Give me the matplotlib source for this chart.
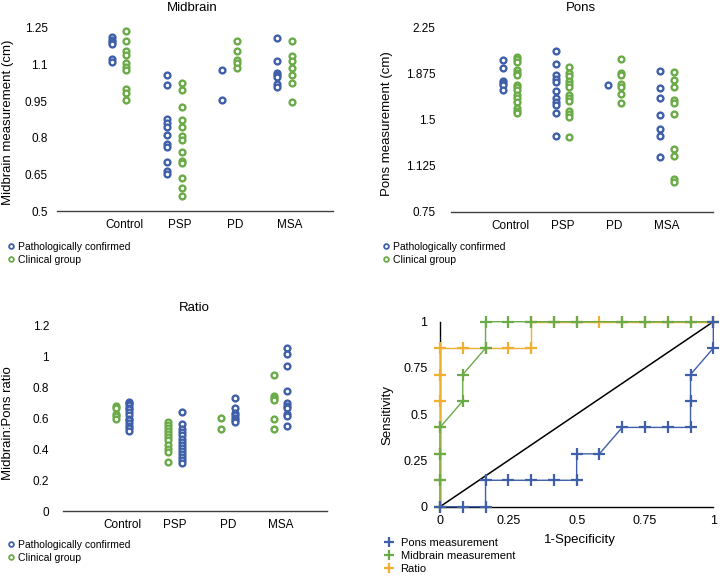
import numpy as np
import matplotlib.pyplot as plt

plt.rcParams['font.family'] = ['Liberation Sans', 'DejaVu Sans']

BLUE = '#3f5fa9'
GREEN = '#6aab48'
ORANGE = '#efb031'

groups = ["Control", "PSP", "PD", "MSA"]

# Midbrain measurement (cm)
mid_path = [
    [1.21, 1.20, 1.19, 1.185, 1.12, 1.11],
    [1.055, 1.015, 0.875, 0.86, 0.845, 0.813, 0.775, 0.762, 0.702, 0.664, 0.652],
    [1.076, 0.955],
    [1.207, 1.115, 1.066, 1.057, 1.047, 1.019, 1.006],
]
mid_clin = [
    [1.236, 1.197, 1.156, 1.14, 1.107, 1.088, 1.077, 0.998, 0.984, 0.955],
    [1.023, 0.995, 0.925, 0.874, 0.844, 0.805, 0.791, 0.742, 0.704, 0.696, 0.633, 0.594, 0.562],
    [1.197, 1.156, 1.118, 1.107, 1.087],
    [1.197, 1.136, 1.115, 1.085, 1.055, 1.025, 0.944],
]

# Pons measurement (cm)
pons_path = [
    [1.99, 1.92, 1.82, 1.80, 1.78, 1.74],
    [2.063, 1.951, 1.862, 1.834, 1.807, 1.734, 1.679, 1.642, 1.617, 1.557, 1.367],
    [1.78],
    [1.90, 1.759, 1.679, 1.538, 1.427, 1.367, 1.196],
]
pons_clin = [
    [2.014, 1.992, 1.973, 1.905, 1.883, 1.867, 1.783, 1.764, 1.742, 1.701, 1.674,
     1.647, 1.60, 1.575, 1.555],
    [1.932, 1.878, 1.86, 1.816, 1.791, 1.769, 1.701, 1.679, 1.65, 1.575, 1.547,
     1.522, 1.359],
    [1.992, 1.878, 1.862, 1.791, 1.769, 1.709, 1.639],
    [1.889, 1.821, 1.769, 1.661, 1.639, 1.55, 1.259, 1.204, 1.017, 0.998],
]

# Midbrain:Pons ratio
ratio_path = [
    [0.71, 0.70, 0.69, 0.67, 0.66, 0.64, 0.62, 0.60, 0.59, 0.57, 0.55, 0.54, 0.52],
    [0.64, 0.565, 0.53, 0.51, 0.49, 0.47, 0.45, 0.43, 0.41, 0.39, 0.37, 0.35,
     0.33, 0.31],
    [0.73, 0.67, 0.635, 0.62, 0.605, 0.59, 0.575],
    [1.059, 1.018, 0.943, 0.776, 0.699, 0.681, 0.668, 0.629, 0.616, 0.553],
]
ratio_clin = [
    [0.68, 0.665, 0.63, 0.615, 0.60],
    [0.58, 0.56, 0.54, 0.52, 0.50, 0.48, 0.46, 0.43, 0.40, 0.38, 0.32],
    [0.601, 0.534],
    [0.88, 0.745, 0.73, 0.72, 0.60, 0.53],
]

# ROC curves
pons_fpr = np.array([0, 1, 2, 2, 3, 4, 5, 6, 6, 7, 8, 9, 10, 11, 11, 11, 12, 12]) / 12
pons_tpr = np.array([0, 0, 0, 1, 1, 1, 1, 1, 2, 2, 3, 3, 3, 3, 4, 5, 6, 7]) / 7
mid_fpr = np.array([0, 0, 0, 0, 1, 1, 2, 2, 3, 4, 5, 6, 8, 9, 10, 11, 12]) / 12
mid_tpr = np.array([0, 1, 2, 3, 4, 5, 6, 7, 7, 7, 7, 7, 7, 7, 7, 7, 7]) / 7
rat_fpr = np.array([0, 0, 0, 0, 0, 0, 0, 1, 2, 3, 4, 4, 5, 6, 7, 8, 9, 10, 11, 12]) / 12
rat_tpr = np.array([0, 1, 2, 3, 4, 5, 6, 6, 6, 6, 6, 7, 7, 7, 7, 7, 7, 7, 7, 7]) / 7

W, H = 720, 579
fig = plt.figure(figsize=(W / 100, H / 100), dpi=100)


def axes_px(x0, y0, x1, y1):
    return fig.add_axes([x0 / W, 1 - y1 / H, (x1 - x0) / W, (y1 - y0) / H])


def fig_text(x, y, s, **kw):
    fig.text(x / W, 1 - y / H, s, **kw)


def dot_panel(rect, first, second, colors, ylim, yticks, yticklabels,
              ypad, label_shift=0.0):
    ax = axes_px(*rect)
    pos = np.arange(1, len(groups) + 1)
    for c, a, b in zip(pos, first, second):
        ax.plot(np.full(len(a), c - 0.13), a, 'o', ms=4.2, mew=1.7,
                mec=colors[0], mfc='white', clip_on=False)
        ax.plot(np.full(len(b), c + 0.13), b, 'o', ms=4.2, mew=1.7,
                mec=colors[1], mfc='white', clip_on=False)
    ax.set_xlim(-0.13, 4.88)
    ax.set_ylim(*ylim)
    ax.set_yticks(yticks)
    ax.set_yticklabels(yticklabels, fontsize=8.5)
    ax.set_xticks(pos + label_shift)
    ax.set_xticklabels(groups, fontsize=8.5)
    ax.tick_params(length=0)
    ax.tick_params(axis='y', pad=ypad)
    ax.tick_params(axis='x', pad=6)
    for s in ['top', 'right', 'left']:
        ax.spines[s].set_visible(False)
    ax.spines['bottom'].set_color('#404040')
    ax.spines['bottom'].set_linewidth(1)
    return ax


def dot_legend(x, y):
    h = [plt.Line2D([], [], ls='', marker='o', ms=3.4, mew=1.3, mec=BLUE, mfc='white'),
         plt.Line2D([], [], ls='', marker='o', ms=3.4, mew=1.3, mec=GREEN, mfc='white')]
    fig.legend(h, ["Pathologically confirmed", "Clinical group"], loc='upper left',
               bbox_to_anchor=(x / W, 1 - y / H), frameon=False, fontsize=7.5,
               handlelength=0.6, handletextpad=0.35, labelspacing=0.25,
               borderpad=0, borderaxespad=0)


# Midbrain
dot_panel((57, 27.7, 333, 211), mid_path, mid_clin, (BLUE, GREEN), (0.5, 1.25),
          [0.5, 0.65, 0.8, 0.95, 1.1, 1.25],
          ["0.5", "0.65", "0.8", "0.95", "1.1", "1.25"], 6.5, label_shift=0.1)
fig_text(192, 8, "Midbrain", ha='center', va='center', fontsize=9.5)
fig_text(8, 122, "Midbrain measurement (cm)", rotation=90, ha='center',
         va='center', fontsize=9.5)
dot_legend(8, 242)

# Pons
dot_panel((451, 27.7, 713, 212), pons_path, pons_clin, (BLUE, GREEN), (0.75, 2.25),
          [0.75, 1.125, 1.5, 1.875, 2.25],
          ["0.75", "1.125", "1.5", "1.875", "2.25"], 11)
fig_text(581, 8, "Pons", ha='center', va='center', fontsize=9.5)
fig_text(387, 124, "Pons measurement (cm)", rotation=90, ha='center',
         va='center', fontsize=9.5)
dot_legend(383, 242)

# Ratio
dot_panel((63, 326, 327, 511), ratio_clin, ratio_path, (GREEN, BLUE), (0, 1.2),
          [0, 0.2, 0.4, 0.6, 0.8, 1.0, 1.2],
          ["0", "0.2", "0.4", "0.6", "0.8", "1", "1.2"], 10)
fig_text(194, 308, "Ratio", ha='center', va='center', fontsize=9.5)
fig_text(8, 423, "Midbrain:Pons ratio", rotation=90, ha='center',
         va='center', fontsize=9.5)
dot_legend(8, 540)

# ROC
ax = axes_px(440, 321.7, 713.3, 506.7)
ax.plot([0, 1], [0, 1], color='black', lw=1.1, zorder=2)
ax.plot(rat_fpr, rat_tpr, color=ORANGE, lw=1, marker='+', ms=8, mew=1.6,
        clip_on=False, zorder=3)
ax.plot(mid_fpr, mid_tpr, color=GREEN, lw=1, marker='+', ms=8, mew=1.6,
        clip_on=False, zorder=4)
ax.plot(pons_fpr, pons_tpr, color=BLUE, lw=1, marker='+', ms=8, mew=1.6,
        clip_on=False, zorder=5)
ax.set_xlim(0, 1)
ax.set_ylim(0, 1)
ax.set_xticks([0, 0.25, 0.5, 0.75, 1])
ax.set_xticklabels(["0", "0.25", "0.5", "0.75", "1"], fontsize=9)
ax.set_yticks([0, 0.25, 0.5, 0.75, 1])
ax.set_yticklabels(["0", "0.25", "0.5", "0.75", "1"], fontsize=9)
ax.tick_params(length=0)
ax.tick_params(axis='y', pad=9)
ax.tick_params(axis='x', pad=6)
for s in ['top', 'right']:
    ax.spines[s].set_visible(False)
for s in ['left', 'bottom']:
    ax.spines[s].set_color('black')
    ax.spines[s].set_linewidth(1)
fig_text(580, 540, "1-Specificity", ha='center', va='center', fontsize=9.5)
fig_text(387, 415, "Sensitivity", rotation=90, ha='center', va='center',
         fontsize=9.5)
roc_handles = [plt.Line2D([], [], ls='', marker='+', ms=7, mew=1.6, color=c)
               for c in (BLUE, GREEN, ORANGE)]
fig.legend(roc_handles, ["Pons measurement", "Midbrain measurement", "Ratio"],
           loc='upper left', bbox_to_anchor=(385 / W, 1 - 538 / H), frameon=False,
           fontsize=8, handlelength=0.8, handletextpad=0.6, labelspacing=0.28,
           borderpad=0, borderaxespad=0)

fig.savefig("out.png", dpi=100)
